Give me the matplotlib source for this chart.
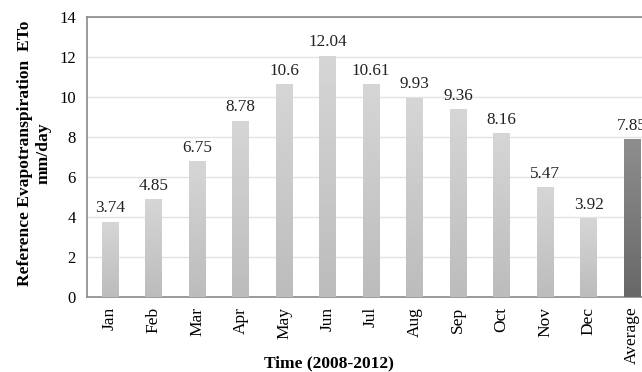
import numpy as np
import matplotlib.pyplot as plt
from matplotlib.colors import LinearSegmentedColormap

months = ['Jan', 'Feb', 'Mar', 'Apr', 'May', 'Jun', 'Jul', 'Aug', 'Sep', 'Oct', 'Nov', 'Dec', 'Average']
eto = [3.74, 4.85, 6.75, 8.78, 10.6, 12.04, 10.61, 9.93, 9.36, 8.16, 5.47, 3.92, 7.85]
labels = ['3.74', '4.85', '6.75', '8.78', '10.6', '12.04', '10.61', '9.93', '9.36', '8.16', '5.47', '3.92', '7.85']

plt.rcParams['font.family'] = ['Liberation Serif', 'DejaVu Serif']

fig = plt.figure(figsize=(6.42, 3.72), dpi=100)
# plot area runs off the right edge, so the Average bar gets cut
ax = fig.add_axes([0.1355, 0.2016, 0.883, 0.7527])

x = np.arange(len(months))
width = 0.39
bars = ax.bar(x, eto, width=width, color='none', zorder=3)

light = LinearSegmentedColormap.from_list('light', ['#bcbcbc', '#d6d6d6'])
dark = LinearSegmentedColormap.from_list('dark', ['#686868', '#8e8e8e'])
grad = np.linspace(0, 1, 256).reshape(-1, 1)
for i, b in enumerate(bars):
    cmap = dark if months[i] == 'Average' else light
    x0 = b.get_x()
    ax.imshow(grad, cmap=cmap, origin='lower', aspect='auto', zorder=3,
              extent=[x0, x0 + b.get_width(), 0, b.get_height()])
    ax.text(x[i], eto[i] + 0.3, labels[i], ha='center', va='bottom',
            fontsize=12.3, color='#222222', zorder=4)

ax.set_xlim(-0.53, 12.5)
ax.set_ylim(0, 14)
ax.set_yticks(np.arange(0, 15, 2))
ax.set_xticks(x)
ax.set_xticklabels(months, rotation=90, fontsize=12.5)
ax.tick_params(axis='y', labelsize=12, length=0, pad=8)
ax.tick_params(axis='x', length=0, pad=7)
ax.grid(axis='y', color='#e2e2e2', linewidth=1, zorder=0)

for side in ['left', 'bottom', 'top']:
    ax.spines[side].set_color('#8a8a8a')
    ax.spines[side].set_linewidth(1.2)
ax.spines['right'].set_visible(False)

ax.set_ylabel('Reference Evapotranspiration  ETo\nmm/day', fontsize=12.6,
              fontweight='bold')
ax.yaxis.set_label_coords(-0.063, 0.514)
ax.set_xlabel('Time (2008-2012)', fontsize=12.5, fontweight='bold')
ax.xaxis.set_label_coords(0.427, -0.208)

fig.savefig('out.png', dpi=100)
